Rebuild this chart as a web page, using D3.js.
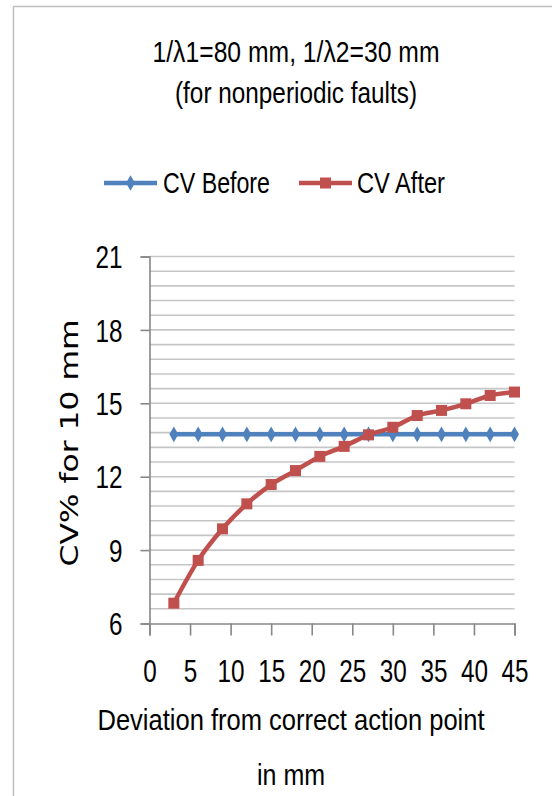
<!DOCTYPE html>
<html><head><meta charset="utf-8">
<script src="https://cdn.jsdelivr.net/npm/d3@7"></script>
<style>
body{margin:0;background:#fff;}
svg{display:block;}
.t{font-family:"Liberation Sans",Arial,sans-serif;fill:#000;}
</style></head><body>
<svg id="c" width="552" height="796"></svg>
<script>
const titleLines = ["1/\u03bb1=80 mm, 1/\u03bb2=30 mm", "(for nonperiodic faults)"];
const seriesNames = ["CV Before", "CV After"];
const xValues = [3, 6, 9, 12, 15, 18, 21, 24, 27, 30, 33, 36, 39, 42, 45];
const cvBefore = [13.73, 13.73, 13.73, 13.73, 13.73, 13.73, 13.73, 13.73, 13.73, 13.73, 13.73, 13.73, 13.73, 13.73, 13.73];
const cvAfter = [6.83, 8.58, 9.87, 10.89, 11.68, 12.25, 12.83, 13.24, 13.71, 14.02, 14.50, 14.71, 14.98, 15.32, 15.46];
const xTicks = [0, 5, 10, 15, 20, 25, 30, 35, 40, 45];
const yTicks = [6, 9, 12, 15, 18, 21];
const xTitleLines = ["Deviation from correct  action point", "in mm"];
const yTitle = "CV% for 10 mm";

const svg = d3.select("#c");
const colors = ["#4f81bd", "#c0504d"];

function fit(sel, widthFn) {
  sel.attr("textLength", widthFn).attr("lengthAdjust", "spacingAndGlyphs");
}

// frame
svg.append("rect").attr("x", 13.5).attr("y", 6.5).attr("width", 600).attr("height", 900)
  .attr("fill", "#fff").attr("stroke", "#bfbfbf").attr("stroke-width", 1.5);

const x = d3.scaleLinear().domain([0, 45]).range([149.5, 514.5]);
const y = d3.scaleLinear().domain([6, 21]).range([623.5, 256.5]);

// gridlines every 0.6
const grid = d3.range(1, 26).map(i => 6 + i * 0.6);
svg.append("g").selectAll("line").data(grid).join("line")
  .attr("x1", x(0)).attr("x2", x(45)).attr("y1", d => y(d)).attr("y2", d => y(d))
  .attr("stroke", "#c6c6c6").attr("stroke-width", 1.6);

// axes
const yAxis = svg.append("g").attr("transform", `translate(${x(0)},0)`)
  .call(d3.axisLeft(y).tickValues(yTicks).tickSize(9).tickPadding(18).tickFormat(d3.format("d")));
const xAxis = svg.append("g").attr("transform", `translate(0,${y(6)})`)
  .call(d3.axisBottom(x).tickValues(xTicks).tickSize(12).tickPadding(24).tickFormat(d3.format("d")));
[xAxis, yAxis].forEach(a => {
  a.select(".domain").attr("stroke", "#878787").attr("stroke-width", 1.6);
  a.selectAll(".tick line").attr("stroke", "#878787").attr("stroke-width", 1.6);
  a.selectAll(".tick text").attr("class", "t").attr("font-size", 31).attr("fill", "#000")
    .call(fit, d => String(d).length * 13.5);
});
yAxis.selectAll(".tick text").attr("dy", "0.36em");

// lines
const line = d3.line().x(d => x(d[0])).y(d => y(d[1])).curve(d3.curveMonotoneX);
const data = [cvBefore, cvAfter].map(s => xValues.map((v, i) => [v, s[i]]));
data.forEach((d, k) => {
  svg.append("path").datum(d).attr("d", line).attr("fill", "none")
    .attr("stroke", colors[k]).attr("stroke-width", 4.5).attr("stroke-linejoin", "round");
});
// markers
svg.append("g").selectAll("path").data(data[0]).join("path")
  .attr("transform", d => `translate(${x(d[0])},${y(d[1])})`)
  .attr("d", d3.symbol(d3.symbolDiamond, 70)).attr("fill", colors[0]);
svg.append("g").selectAll("rect").data(data[1]).join("rect")
  .attr("x", d => x(d[0]) - 5.5).attr("y", d => y(d[1]) - 5.5)
  .attr("width", 11).attr("height", 11).attr("fill", colors[1]);

// title
const titleW = [287, 242];
svg.append("g").selectAll("text").data(titleLines).join("text").attr("class", "t")
  .attr("x", 296).attr("y", (d, i) => 62 + i * 41).attr("text-anchor", "middle")
  .attr("font-size", 30).text(d => d).call(fit, (d, i) => titleW[i]);

// legend
const leg = [{x1: 104, tx: 163, w: 107}, {x1: 299, tx: 357, w: 88}];
leg.forEach((l, k) => {
  svg.append("line").attr("x1", l.x1).attr("x2", l.x1 + 53).attr("y1", 183).attr("y2", 183)
    .attr("stroke", colors[k]).attr("stroke-width", 4.5);
  if (k === 0) {
    svg.append("path").attr("transform", `translate(${l.x1 + 26.5},183)`)
      .attr("d", d3.symbol(d3.symbolDiamond, 70)).attr("fill", colors[k]);
  } else {
    svg.append("rect").attr("x", l.x1 + 21).attr("y", 177.5).attr("width", 11).attr("height", 11).attr("fill", colors[k]);
  }
  svg.append("text").attr("class", "t").attr("x", l.tx).attr("y", 193)
    .attr("font-size", 30).text(seriesNames[k]).call(fit, l.w);
});

// x title
const xTitleW = [387, 68];
svg.append("g").selectAll("text").data(xTitleLines).join("text").attr("class", "t")
  .attr("x", 291).attr("y", (d, i) => 730 + i * 55).attr("text-anchor", "middle")
  .attr("font-size", 30).text(d => d).call(fit, (d, i) => xTitleW[i]);

// y title
svg.append("text").attr("transform", "translate(78,443) rotate(-90)")
  .attr("text-anchor", "middle").attr("font-family", "'DejaVu Sans',sans-serif")
  .attr("font-size", 25).attr("fill", "#000")
  .attr("textLength", 247).attr("lengthAdjust", "spacingAndGlyphs").text(yTitle);
</script>
</body></html>
